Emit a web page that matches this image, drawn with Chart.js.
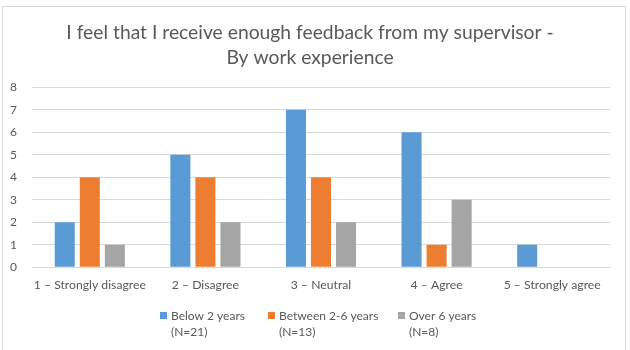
<!DOCTYPE html>
<html>
<head>
<meta charset="utf-8">
<script src="https://cdn.jsdelivr.net/npm/chart.js@4/dist/chart.umd.min.js"></script>
<style>
  body { margin: 0; background: #fff; }
  #wrap { width: 630px; height: 350px; }
</style>
</head>
<body>
<div id="wrap"><canvas id="chart" width="630" height="350"></canvas></div>
<script>
const categories = ["1 \u2013 Strongly disagree", "2 \u2013 Disagree", "3 \u2013 Neutral", "4 \u2013 Agree", "5 \u2013 Strongly agree"];
const below2 = [2, 5, 7, 6, 1];
const between2to6 = [4, 4, 4, 1, 0];
const over6 = [1, 2, 2, 3, 0];
const seriesLabels = [["Below 2 years", "(N=21)"], ["Between 2-6 years", "(N=13)"], ["Over 6 years", "(N=8)"]];
const yTicks = [0, 1, 2, 3, 4, 5, 6, 7, 8];

const colors = ["#5B9BD5", "#ED7D31", "#A5A5A5"];
const textColor = "#595959";
const fontFamily = "Lato, 'Open Sans', sans-serif";

// frame round the whole chart, and a two-line legend under the axis
const framePlugin = {
  id: "frame",
  beforeDraw(chart) {
    const ctx = chart.ctx;
    ctx.save();
    ctx.fillStyle = "#fff";
    ctx.fillRect(0, 0, chart.width, chart.height);
    ctx.strokeStyle = "#D9D9D9";
    ctx.lineWidth = 1;
    ctx.strokeRect(2.5, 6.5, 623, 345);
    ctx.restore();
  },
  afterDraw(chart) {
    const ctx = chart.ctx;
    const xs = [160, 268, 398];
    ctx.save();
    ctx.font = "12px " + fontFamily;
    ctx.textBaseline = "middle";
    chart.data.datasets.forEach((ds, i) => {
      ctx.fillStyle = ds.backgroundColor;
      ctx.fillRect(xs[i], 312, 7, 7);
      ctx.fillStyle = textColor;
      ds.label.forEach((line, j) => {
        ctx.fillText(line, xs[i] + 11, 316 + j * 16);
      });
    });
    ctx.restore();
  }
};

new Chart(document.getElementById("chart"), {
  type: "bar",
  data: {
    labels: categories,
    datasets: [
      { label: seriesLabels[0], data: below2, backgroundColor: colors[0] },
      { label: seriesLabels[1], data: between2to6, backgroundColor: colors[1] },
      { label: seriesLabels[2], data: over6, backgroundColor: colors[2] }
    ]
  },
  options: {
    responsive: false,
    animation: false,
    layout: { padding: { left: 10, right: 20, top: 6, bottom: 48 } },
    datasets: { bar: { categoryPercentage: 0.65, barPercentage: 0.8 } },
    plugins: {
      legend: { display: false },
      tooltip: { enabled: false },
      title: {
        display: true,
        text: ["I feel that I receive enough feedback from my supervisor -", "By work experience"],
        color: textColor,
        font: { family: fontFamily, size: 19.3, weight: "normal", lineHeight: 1.3 },
        padding: { top: 14, bottom: 17 }
      }
    },
    scales: {
      x: {
        grid: { display: false, drawTicks: false },
        border: { color: "#D9D9D9" },
        ticks: { color: textColor, font: { family: fontFamily, size: 12.2 }, padding: 10, maxRotation: 0, autoSkip: false }
      },
      y: {
        min: 0,
        max: yTicks[yTicks.length - 1],
        afterBuildTicks(axis) { axis.ticks = yTicks.map(v => ({ value: v })); },
        afterFit(axis) { axis.width = 22; },
        grid: { color: "#D9D9D9", drawTicks: false },
        border: { display: false },
        ticks: { color: textColor, font: { family: fontFamily, size: 12 }, padding: 15 }
      }
    }
  },
  plugins: [framePlugin]
});
</script>
</body>
</html>
